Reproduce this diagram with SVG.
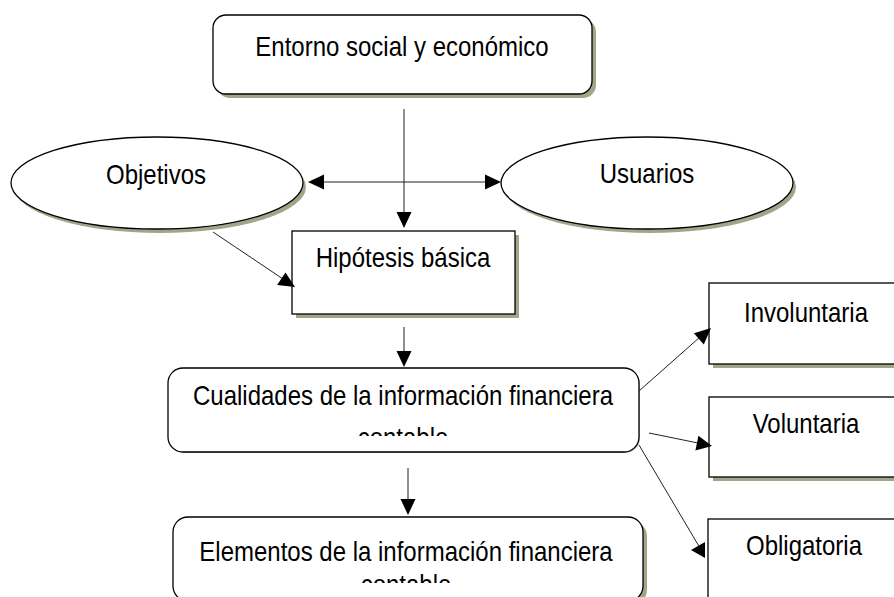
<svg xmlns="http://www.w3.org/2000/svg" width="894" height="597" viewBox="0 0 894 597">
<style>
.box{fill:#fff;stroke:#000;stroke-width:1.3}
.sh{fill:#9fa78b;stroke:none}
.t{font-family:"Liberation Sans",Arial,sans-serif;font-size:24px;fill:#000;text-anchor:middle}
.ln{stroke:#222;stroke-width:1;fill:none}
.ah{fill:#000;stroke:none}
</style>
<defs>
<clipPath id="c1"><rect x="168" y="368" width="471" height="68"/></clipPath>
<clipPath id="c2"><rect x="173" y="517" width="470" height="66"/></clipPath>
</defs>
<rect width="894" height="597" fill="#fff"/>

<g id="entorno">
<rect class="sh" x="217" y="19" width="379" height="79" rx="13"/>
<rect class="box" x="213" y="15" width="379" height="79" rx="13"/>
<text class="t" transform="translate(402,56) scale(1,1.18)">Entorno social y económico</text>
</g>

<g id="objetivos">
<ellipse class="sh" cx="160" cy="187" rx="146" ry="46"/>
<ellipse class="box" cx="157" cy="183" rx="146" ry="46"/>
<text class="t" transform="translate(156,184) scale(1,1.18)">Objetivos</text>
</g>

<g id="usuarios">
<ellipse class="sh" cx="650" cy="187" rx="146" ry="46"/>
<ellipse class="box" cx="647" cy="183" rx="146" ry="46"/>
<text class="t" transform="translate(647,183) scale(1,1.18)">Usuarios</text>
</g>

<g id="hipotesis">
<rect class="sh" x="296" y="235" width="223" height="83"/>
<rect class="box" x="292" y="231" width="223" height="83"/>
<text class="t" transform="translate(403,267) scale(1,1.18)">Hipótesis básica</text>
</g>

<g id="cualidades">
<rect x="169" y="369" width="471" height="84" rx="15" fill="#bbb"/>
<rect class="box" x="168" y="368" width="471" height="84" rx="15"/>
<g clip-path="url(#c1)">
<text class="t" transform="translate(403,405) scale(1,1.18)">Cualidades de la información financiera</text>
<text class="t" transform="translate(403,447) scale(1,1.18)">contable</text>
</g>
</g>

<g id="elementos">
<rect class="sh" x="177" y="521" width="470" height="84" rx="15"/>
<rect class="box" x="173" y="517" width="470" height="84" rx="15"/>
<g clip-path="url(#c2)">
<text class="t" transform="translate(406,561) scale(1,1.18)">Elementos de la información financiera</text>
<text class="t" transform="translate(406,594) scale(1,1.18)">contable</text>
</g>
</g>

<g id="involuntaria">
<rect class="sh" x="713" y="287" width="200" height="81"/>
<rect class="box" x="709" y="283" width="200" height="81"/>
<text class="t" transform="translate(806,322) scale(1,1.18)">Involuntaria</text>
</g>

<g id="voluntaria">
<rect class="sh" x="713" y="401" width="200" height="80"/>
<rect class="box" x="709" y="397" width="200" height="80"/>
<text class="t" transform="translate(806,433) scale(1,1.18)">Voluntaria</text>
</g>

<g id="obligatoria">
<rect class="sh" x="712" y="523" width="200" height="90"/>
<rect class="box" x="708" y="519" width="200" height="90"/>
<text class="t" transform="translate(804,555) scale(1,1.18)">Obligatoria</text>
</g>

<g id="connectors">
<line class="ln" x1="404" y1="109" x2="404" y2="214"/>
<polygon class="ah" points="404,228 396.5,212 411.5,212"/>
<line class="ln" x1="322" y1="182" x2="487" y2="182"/>
<polygon class="ah" points="308,182 324,174.5 324,189.5"/>
<polygon class="ah" points="501,182 485,174.5 485,189.5"/>
<line class="ln" x1="213" y1="232" x2="283" y2="279"/>
<polygon class="ah" points="295,287 277.1,285.1 285.5,272.6"/>
<line class="ln" x1="404" y1="327" x2="404" y2="353"/>
<polygon class="ah" points="404,367 396.5,351 411.5,351"/>
<line class="ln" x1="408" y1="468" x2="408" y2="501"/>
<polygon class="ah" points="408,515 400.5,499 415.5,499"/>
<line class="ln" x1="639" y1="391" x2="700" y2="337"/>
<polygon class="ah" points="711,328 703.8,344.4 693.9,333.2"/>
<line class="ln" x1="649" y1="433" x2="698" y2="443"/>
<polygon class="ah" points="712,446 695.4,450.5 698.4,435.8"/>
<line class="ln" x1="639" y1="445" x2="700" y2="548"/>
<polygon class="ah" points="691,550 705,542 705,558"/>
</g>
</svg>
